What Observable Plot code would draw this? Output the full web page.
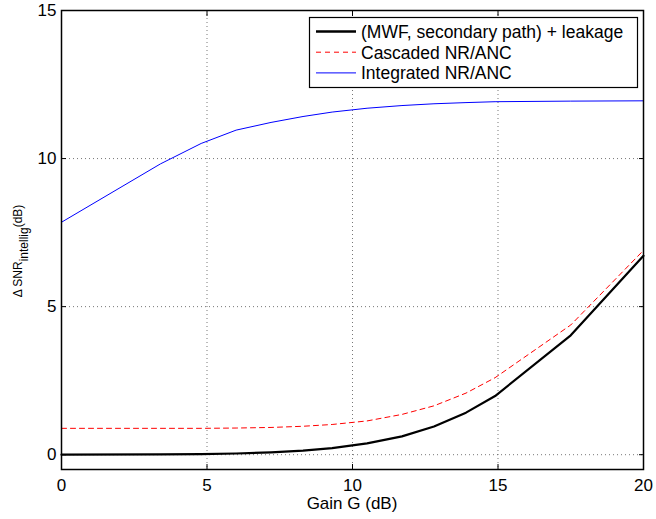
<!DOCTYPE html>
<html>
<head>
<meta charset="utf-8">
<script src="https://cdn.jsdelivr.net/npm/d3@7"></script>
<script src="https://cdn.jsdelivr.net/npm/@observablehq/plot@0.6"></script>
<style>
  html, body { margin: 0; padding: 0; background: #fff; }
  #chart { width: 656px; height: 519px; }
</style>
</head>
<body>
<div id="chart"></div>
<script>
const gain = [0, 3.4, 4.8, 6.0, 7.2, 8.3, 9.3, 10.5, 11.7, 12.8, 13.9, 14.9, 17.5, 20];
const mwfLeakage = [0, 0.01, 0.02, 0.04, 0.08, 0.14, 0.22, 0.38, 0.62, 0.95, 1.42, 1.98, 4.03, 6.72];
const cascaded = [0.89, 0.89, 0.89, 0.90, 0.92, 0.96, 1.02, 1.14, 1.36, 1.65, 2.08, 2.60, 4.38, 6.90];
const integrated = [7.85, 9.82, 10.51, 10.96, 11.22, 11.42, 11.57, 11.70, 11.79, 11.85, 11.89, 11.92, 11.94, 11.95];
const xTicks = [0, 5, 10, 15, 20];
const yTicks = [0, 5, 10, 15];
const seriesNames = ["(MWF, secondary path) + leakage", "Cascaded NR/ANC", "Integrated NR/ANC"];
const xLabel = "Gain G (dB)";

const rows = (vals, name) => gain.map((g, i) => ({g, v: vals[i], name}));
const dBlack = rows(mwfLeakage, seriesNames[0]);
const dRed = rows(cascaded, seriesNames[1]);
const dBlue = rows(integrated, seriesNames[2]);

const font = "'Liberation Sans', Arial, Helvetica, sans-serif";
const gridStyle = {stroke: "#555", strokeOpacity: 0.8, strokeDasharray: "1,3"};

const plot = Plot.plot({
  width: 656,
  height: 519,
  marginLeft: 61,
  marginRight: 13,
  marginTop: 10,
  marginBottom: 50,
  style: {fontFamily: font, fontSize: "17px", color: "#000", background: "#fff"},
  x: {domain: [0, 20], ticks: xTicks, label: null},
  y: {domain: [-0.5, 15], ticks: yTicks, label: null},
  marks: [
    Plot.gridX(xTicks, gridStyle),
    Plot.gridY(yTicks, gridStyle),
    Plot.line(dBlue, {x: "g", y: "v", stroke: "#0000ff", strokeWidth: 1}),
    Plot.line(dRed, {x: "g", y: "v", stroke: "#ff0000", strokeWidth: 1, strokeDasharray: "5,4"}),
    Plot.line(dBlack, {x: "g", y: "v", stroke: "#000", strokeWidth: 2.2}),
    Plot.axisX(xTicks, {anchor: "bottom", tickSize: -5, text: null, label: null, stroke: "#000"}),
    Plot.axisX(xTicks, {anchor: "top", tickSize: -5, text: null, label: null, stroke: "#000"}),
    Plot.axisY(yTicks, {anchor: "left", tickSize: -5, text: null, label: null, stroke: "#000"}),
    Plot.axisY(yTicks, {anchor: "right", tickSize: -5, text: null, label: null, stroke: "#000"}),
    Plot.axisX(xTicks, {anchor: "bottom", tickSize: 0, tickPadding: 9, label: null, fontSize: 17}),
    Plot.axisY(yTicks, {anchor: "left", tickSize: 0, tickPadding: 5, label: null, fontSize: 17}),
    Plot.frame({stroke: "#000", strokeWidth: 1.5})
  ]
});
document.getElementById("chart").appendChild(plot);

const svg = d3.select(plot);

// x-axis label
svg.append("text")
  .attr("x", (61 + 643) / 2).attr("y", 509)
  .attr("text-anchor", "middle")
  .attr("font-family", font).attr("font-size", 17)
  .text(xLabel);

// y-axis label with subscript
const yl = svg.append("text")
  .attr("transform", "translate(21.5,251) rotate(-90)")
  .attr("text-anchor", "middle")
  .attr("font-family", font).attr("font-size", 12);
yl.append("tspan").text("\u0394 SNR");
yl.append("tspan").attr("dy", 6).text("intellig");
yl.append("tspan").attr("dy", -6).text("(dB)");

// legend
const lg = svg.append("g").attr("font-family", font).attr("font-size", 17.5).attr("text-anchor", "start");
lg.append("rect").attr("x", 309.5).attr("y", 17.5).attr("width", 328).attr("height", 70)
  .attr("fill", "#fff").attr("stroke", "#000").attr("stroke-width", 1.2);
const legendStyles = [
  {stroke: "#000", width: 2.5, dash: null},
  {stroke: "#ff0000", width: 1, dash: "5,4"},
  {stroke: "#0000ff", width: 1, dash: null}
];
seriesNames.forEach((name, i) => {
  const y = 31.5 + i * 20.7;
  const s = legendStyles[i];
  lg.append("line").attr("x1", 316).attr("x2", 356).attr("y1", y).attr("y2", y)
    .attr("stroke", s.stroke).attr("stroke-width", s.width)
    .attr("stroke-dasharray", s.dash);
  lg.append("text").attr("x", 361).attr("y", y).attr("dy", "0.36em")
    .attr("text-anchor", "start").text(name);
});
</script>
</body>
</html>
